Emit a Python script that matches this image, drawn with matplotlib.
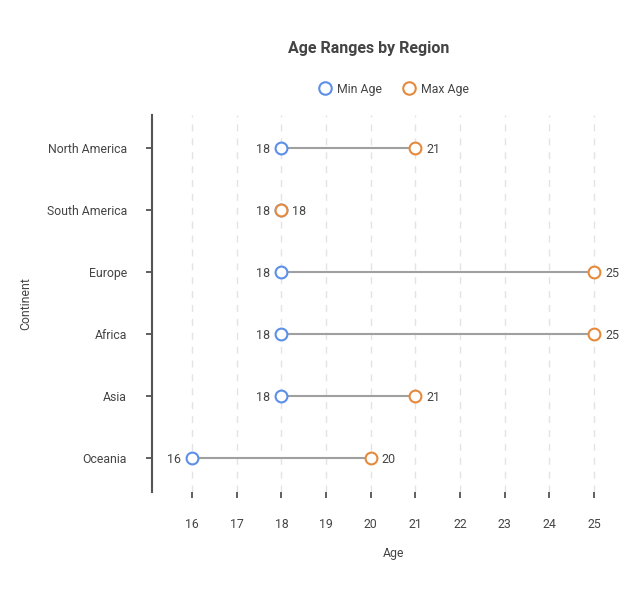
import matplotlib
matplotlib.use("Agg")
import matplotlib.pyplot as plt
from matplotlib.lines import Line2D

continents = ["North America", "South America", "Europe", "Africa", "Asia", "Oceania"]
min_age = [18, 18, 18, 18, 18, 16]
max_age = [21, 18, 25, 25, 21, 20]
x_ticks = [16, 17, 18, 19, 20, 21, 22, 23, 24, 25]

plt.rcParams['font.family'] = ['Roboto', 'DejaVu Sans']
BLUE = "#5B8FE8"
ORANGE = "#E58A3C"
TXT = "#444444"
FS = 8.8

fig = plt.figure(figsize=(6.4, 6.0), dpi=100)
ax = fig.add_axes([0.2375, 0.18, 0.7325, 0.6283])

n = len(continents)
ypos = [n - 1 - i for i in range(n)]

for x in x_ticks:
    ax.axvline(x, color="#e3e3e3", lw=1, ls=(0, (5, 5)), zorder=0)

for y, mn, mx in zip(ypos, min_age, max_age):
    ax.plot([mn, mx], [y, y], color="#a0a0a0", lw=1.5, zorder=1)
ax.plot(min_age, ypos, 'o', ms=8.5, mfc='white', mec=BLUE, mew=1.5, zorder=2, ls='none')
ax.plot(max_age, ypos, 'o', ms=8.5, mfc='white', mec=ORANGE, mew=1.5, zorder=3, ls='none')

for y, mn, mx in zip(ypos, min_age, max_age):
    ax.annotate(str(mn), (mn, y), xytext=(-8, 0), textcoords='offset points',
                ha='right', va='center_baseline', fontsize=9, color=TXT)
    ax.annotate(str(mx), (mx, y), xytext=(8, 0), textcoords='offset points',
                ha='left', va='center_baseline', fontsize=9, color=TXT)

ax.set_xlim(15.105, 25.6)
ax.set_ylim(-0.55, n - 1 + 0.53)
ax.set_xticks(x_ticks)
ax.set_xticklabels([str(v) for v in x_ticks])
ax.set_yticks(ypos)
ax.set_yticklabels(continents)

for s in ['top', 'right', 'bottom']:
    ax.spines[s].set_visible(False)
ax.spines['left'].set_color('#555555')
ax.spines['left'].set_linewidth(1.5)

ax.tick_params(axis='x', length=4, width=1.2, color='#444444', pad=15, labelsize=FS, labelcolor=TXT)
ax.tick_params(axis='y', length=4, width=1.2, color='#444444', pad=14, labelsize=FS, labelcolor=TXT)

ax.set_xlabel("Age", fontsize=FS, color=TXT)
ax.set_ylabel("Continent", fontsize=FS, color=TXT)
ax.xaxis.set_label_coords(0.515, -0.146)
ax.yaxis.set_label_coords(-0.256, 0.5)

fig.text(369 / 640, 1 - 48 / 600, "Age Ranges by Region", ha='center', va='center',
         fontsize=11.5, fontweight='bold', color=TXT)

handles = [
    Line2D([], [], marker='o', ls='none', ms=9, mfc='white', mec=BLUE, mew=1.5, label="Min Age"),
    Line2D([], [], marker='o', ls='none', ms=9, mfc='white', mec=ORANGE, mew=1.5, label="Max Age"),
]
fig.legend(handles=handles, loc='center', bbox_to_anchor=(393 / 640, 1 - 89 / 600), ncol=2,
           frameon=False, fontsize=FS, labelcolor=TXT, handletextpad=0.4, columnspacing=1.6,
           handlelength=1.2)

fig.savefig("out.png", dpi=100)
